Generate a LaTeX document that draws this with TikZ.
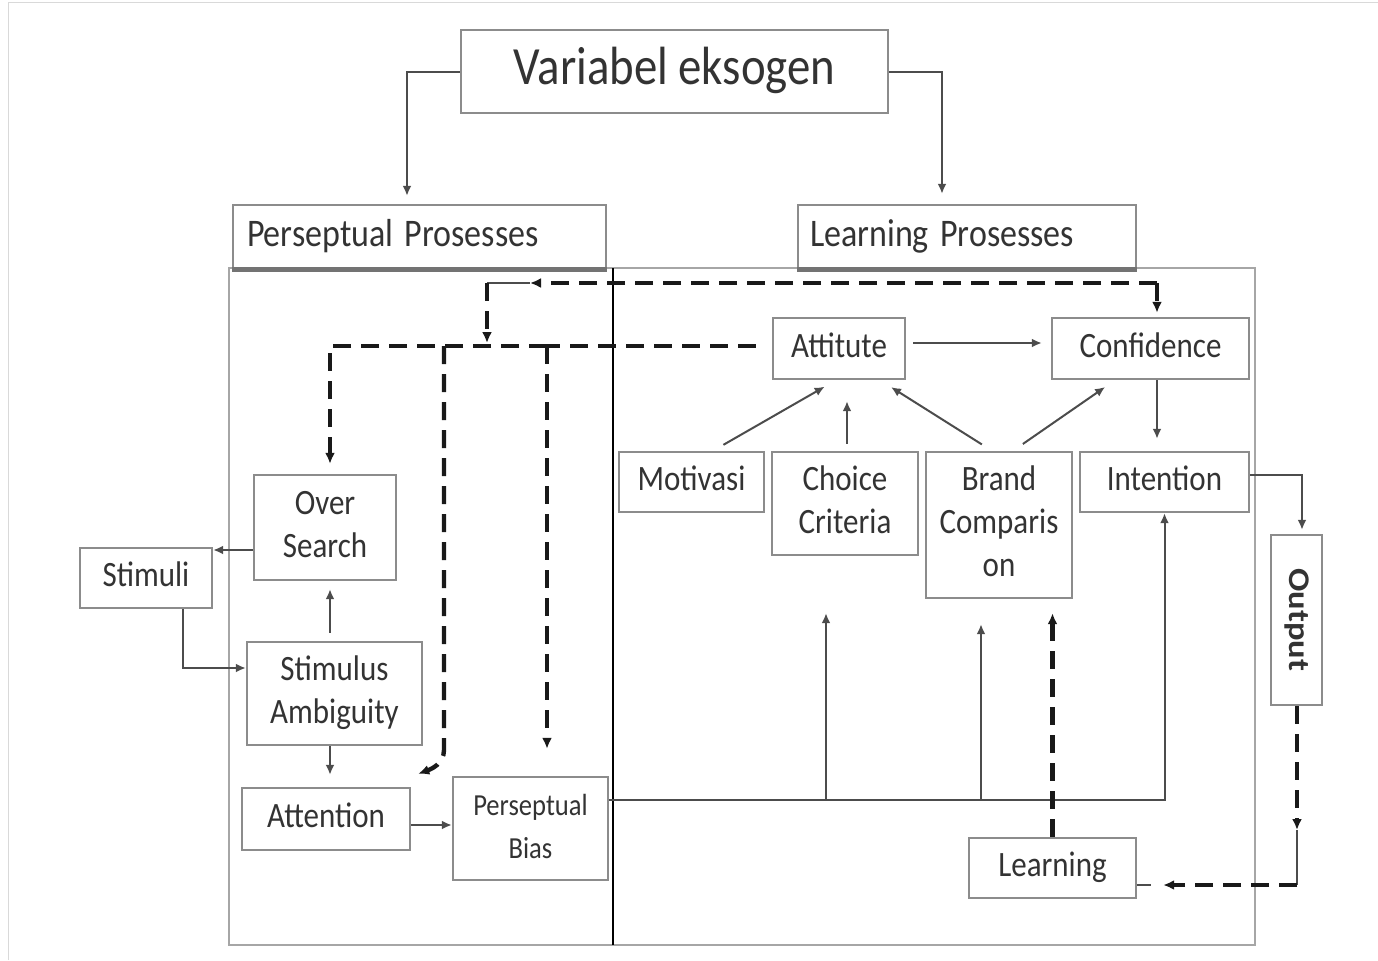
\documentclass[tikz,border=0pt]{standalone}
\usepackage{fontspec}
\setmainfont{Carlito}
\usetikzlibrary{arrows.meta}
\newcommand{\boxtxt}[1]{\raisebox{-1.5pt}{\scalebox{1}[1.15]{\begin{tabular}{@{}c@{}}#1\end{tabular}}}}

\begin{document}
\begin{tikzpicture}[x=0.5pt,y=-0.5pt,
    box/.style={draw=black!45,line width=1.2pt,text=black!80,inner sep=0pt,font=\fontsize{15.5}{18.7}\selectfont},
    boxsize/.style 2 args={minimum width=#1*0.5pt,minimum height=#2*0.5pt},
    head/.style={box,font=\fontsize{17}{20}\selectfont,align=left,minimum height=31.5pt},
    arr/.style={draw=black!70,line width=1pt,-{Latex[length=5pt,width=4.5pt]}},
    thinline/.style={draw=black!70,line width=1pt},
    dsh/.style={draw=black!90,line width=2.2pt,dash pattern=on 9pt off 5pt,-{Latex[length=5.5pt,width=5pt]}}]
    \useasboundingbox (0,0) rectangle (1378,960);
    \draw[black!15] (8,960) -- (8,2) -- (1378,2);

    \draw[black!35,line width=1pt] (229,268) rectangle (1255,945);
    \draw[black,line width=1.3pt] (613,268) -- (613,945);

    \node[box,boxsize={427}{83},font=\fontsize{23.4}{28}\selectfont] (vareks) at (674.5,71.5) {\boxtxt{Variabel eksogen}};
    \node[head,text width=172.5pt,inner xsep=7pt] (perproc) at (419.5,236.5) {\raisebox{-1.5pt}{\scalebox{1}[1.15]{Perseptual Prosesses}}};
    \node[head,text width=157pt,inner xsep=6pt] (learnproc) at (967,236.5) {\raisebox{-1.5pt}{\scalebox{1}[1.15]{Learning Prosesses}}};
    \draw[black!55,line width=2.5pt] (perproc.south west) -- (perproc.south east);
    \draw[black!55,line width=2.5pt] (learnproc.south west) -- (learnproc.south east);

    \node[box,boxsize={132}{60}] (stimuli) at (146,578) {\boxtxt{Stimuli}};
    \node[box,boxsize={142}{105}] (oversearch) at (325,527.5) {\boxtxt{Over\\Search}};
    \node[box,boxsize={175}{103}] (stimamb) at (334.5,693.5) {\boxtxt{Stimulus\\Ambiguity}};
    \node[box,boxsize={168}{62}] (attention) at (326,819) {\boxtxt{Attention}};
    \node[box,boxsize={155}{103},font=\fontsize{13.3}{18.7}\selectfont] (perbias) at (530.5,828.5) {\boxtxt{Perseptual\\Bias}};

    \node[box,boxsize={132}{61}] (attitute) at (839,348.5) {\boxtxt{Attitute}};
    \node[box,boxsize={197}{61}] (confidence) at (1150.5,348.5) {\boxtxt{Confidence}};
    \node[box,boxsize={145}{60}] (motivasi) at (691.5,482) {\boxtxt{Motivasi}};
    \node[box,boxsize={146}{103}] (choice) at (845,503.5) {\boxtxt{Choice\\Criteria}};
    \node[box,boxsize={146}{146}] (brand) at (999,525) {\boxtxt{Brand\\Comparis\\on}};
    \node[box,boxsize={169}{60}] (intention) at (1164.5,482) {\boxtxt{Intention}};
    \node[box,boxsize={51}{170},font=\fontsize{15}{18}\selectfont\bfseries] (output) at (1296.5,620) {\rotatebox{-90}{\scalebox{1.15}[1]{Output}}};
    \node[box,boxsize={167}{60}] (learning) at (1052.5,868) {\boxtxt{Learning}};

    \draw[arr,shorten >=4pt] (vareks.west) -| ([xshift=-6.25pt]perproc.north);
    \draw[arr,shorten >=5pt] (vareks.east) -| ([xshift=-12.5pt]learnproc.north);

    \draw[arr] ([yshift=-11.25pt]oversearch.west) -- ([yshift=14pt]stimuli.east);
    \draw[arr] ([xshift=18.5pt]stimuli.south) |- ([yshift=12.75pt]stimamb.west);
    \draw[arr,shorten <=4pt,shorten >=4pt] ([xshift=-2.25pt]stimamb.north) -- ([xshift=2.5pt]oversearch.south);
    \draw[arr,shorten >=6pt] ([xshift=-2.25pt]stimamb.south) -- ([xshift=2pt]attention.north);
    \draw[arr] ([yshift=-3pt]attention.east) -- ([yshift=-3pt]attention.east -| perbias.west);

    \coordinate (pb) at ([yshift=14.25pt]perbias.east);
    \coordinate (ccb) at ([xshift=-9.5pt]choice.south);
    \coordinate (bcb) at ([xshift=-9pt]brand.south);
    \draw[arr] (pb) -| (intention.south);
    \draw[arr,shorten >=28.5pt] (ccb |- pb) -- (ccb);
    \draw[arr,shorten >=12.5pt] (bcb |- pb) -- (bcb);

    \draw[arr,shorten <=3.5pt,shorten >=4.5pt] ([yshift=2.75pt]attitute.east) -- ([yshift=2.75pt]attitute.east -| confidence.west);
    \draw[arr,shorten >=6pt] ([xshift=3.25pt]confidence.south) -- ([xshift=-3.75pt]intention.north);
    \draw[arr,shorten <=6pt,shorten >=6.5pt] ([xshift=10.75pt]motivasi.north) -- ([xshift=-1.5pt]attitute.south);
    \draw[arr,shorten <=3.5pt,shorten >=10.5pt] ([xshift=1pt]choice.north) -- ([xshift=4pt]attitute.south);
    \draw[arr,shorten <=6pt,shorten >=6.5pt] ([xshift=-3.5pt]brand.north) -- ([xshift=20.5pt]attitute.south);
    \draw[arr,shorten <=6pt,shorten >=6pt] ([xshift=7pt]brand.north) -- ([xshift=-17.75pt]confidence.south);
    \draw[arr,shorten >=2pt] ([yshift=3.5pt]intention.east) -| ([xshift=2.75pt]output.north);

    \coordinate (oc1) at (1297,830);
    \coordinate (oc2) at (1297,885);
    \draw[dsh] ([xshift=0.25pt]output.south) -- (oc1);
    \draw[thinline] (oc1) -- (oc2);
    \draw[dsh,shorten >=13pt] (oc2) -- (oc2 -| learning.east);
    \draw[thinline] (oc2 -| learning.east) -- ++(14,0);
    \draw[dsh,shorten >=7pt] (learning.north) -- (learning.north |- brand.south);

    \coordinate (fbR) at (1157,283);
    \coordinate (fbL) at (530,283);
    \coordinate (fbC) at (487,283);
    \draw[dsh,shorten >=2pt] (fbR) -- ([xshift=3.25pt]confidence.north);
    \draw[dsh] (fbR) -- (fbL);
    \draw[thinline] (fbL) -- (fbC);
    \draw[dsh] (fbC) -- (487,343);

    \coordinate (br1) at (444,346);
    \coordinate (br2) at (547,346);
    \draw[dsh,-] ([xshift=-8pt,yshift=1.25pt]attitute.west) -- (br2);
    \draw[dsh,shorten >=5pt] (br2) -| ([xshift=2.5pt]oversearch.north);
    \draw[dsh] (br1) -- (444,750) to[out=-90,in=20] ([shift={(3.5pt,6.5pt)}]attention.north east);
    \draw[dsh,shorten >=13.5pt] (br2) -- ([xshift=8.25pt]perbias.north);
\end{tikzpicture}
\end{document}
